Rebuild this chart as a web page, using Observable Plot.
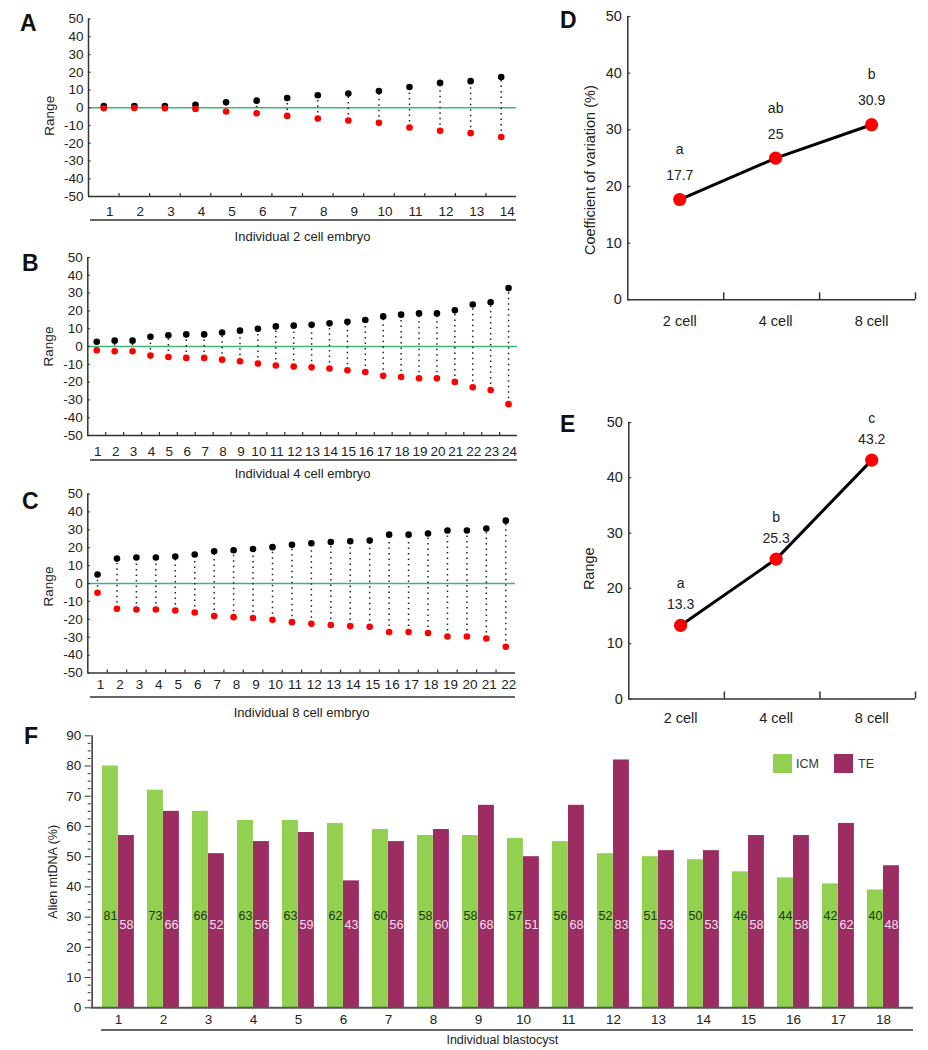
<!DOCTYPE html>
<html><head><meta charset="utf-8">
<script src="https://cdn.jsdelivr.net/npm/d3@7"></script>
<script src="https://cdn.jsdelivr.net/npm/@observablehq/plot@0.6"></script>
<style>
body{margin:0;background:#fff;font-family:"Liberation Sans",Arial,Helvetica,sans-serif;}
#root{position:relative;width:928px;height:1050px;overflow:hidden;background:#fff;}
.letter{position:absolute;font-weight:bold;font-size:23px;line-height:23px;color:#111;}
.uline{position:absolute;height:0;border-top:2px solid #666;}
.sw{position:absolute;width:19px;height:19px;}
.lt{position:absolute;font-size:12.5px;line-height:19px;color:#333;}
</style></head><body><div id="root"></div>
<script>
// ---------- DATA ----------
// Panel A: individual 2 cell embryos (range above / below mean)
const idsA = ["1","2","3","4","5","6","7","8","9","10","11","12","13","14"];
const hiA = [1.0,1.0,1.0,1.6,3.1,4.0,5.5,7.0,8.0,9.4,11.7,14.0,15.0,17.3];
const loA = [-0.3,-0.1,-0.3,-0.7,-2.1,-3.1,-4.6,-6.1,-7.2,-8.5,-11.1,-13.0,-14.3,-16.5];
// Panel B: individual 4 cell embryos
const idsB = ["1","2","3","4","5","6","7","8","9","10","11","12","13","14","15","16","17","18","19","20","21","22","23","24"];
const hiB = [2.7,3.3,3.3,5.5,6.3,6.8,6.8,7.9,8.9,10.0,11.3,11.7,12.2,13.0,13.9,14.9,16.9,17.9,18.6,18.6,20.3,23.6,24.9,32.8];
const loB = [-2.1,-2.7,-2.7,-5.1,-5.9,-6.4,-6.4,-7.4,-8.3,-9.6,-10.7,-11.3,-11.7,-12.4,-13.4,-14.3,-16.5,-17.1,-17.9,-17.9,-19.9,-22.9,-24.4,-32.4];
// Panel C: individual 8 cell embryos
const idsC = ["1","2","3","4","5","6","7","8","9","10","11","12","13","14","15","16","17","18","19","20","21","22"];
const hiC = [5.0,13.9,14.5,14.5,15.1,16.2,18.0,18.6,19.3,20.3,21.6,22.5,23.2,23.6,24.0,27.3,27.3,27.9,29.6,29.6,30.7,35.1];
const loC = [-5.2,-14.1,-14.5,-14.5,-15.1,-16.2,-18.2,-18.8,-19.3,-20.3,-21.6,-22.5,-23.2,-23.8,-24.2,-27.1,-27.1,-27.7,-29.6,-29.6,-30.7,-35.3];
// Panels D and E
const stages = ["2 cell","4 cell","8 cell"];
const cvD = [17.7, 25, 30.9];
const cvLabelD = ["17.7","25","30.9"];
const letterD = ["a","ab","b"];
const rangeE = [13.3, 25.3, 43.2];
const rangeLabelE = ["13.3","25.3","43.2"];
const letterE = ["a","b","c"];
// Panel F: individual blastocysts
const blasto = ["1","2","3","4","5","6","7","8","9","10","11","12","13","14","15","16","17","18"];
const icmBar = [80,72,65,62,62,61,59,57,57,56,55,51,50,49,45,43,41,39];
const teBar  = [57,65,51,55,58,42,55,59,67,50,67,82,52,52,57,57,61,47];
const icmLabel = [81,73,66,63,63,62,60,58,58,57,56,52,51,50,46,44,42,40];
const teLabel  = [58,66,52,56,59,43,56,60,68,51,68,83,53,53,58,58,62,48];

// ---------- STYLE ----------
const FONT = "Liberation Sans, Arial, Helvetica, sans-serif";
const AXIS = "#333";
const ZERO_LINE = "#3fb57a";
const GREEN = "#92d050";
const PURPLE = "#9b2d62";
const root = document.getElementById("root");
const fmt = d => String(d);

function place(el, left, top) {
  el.style.position = "absolute";
  el.style.left = left + "px";
  el.style.top = top + "px";
  el.style.background = "transparent";
  el.style.overflow = "visible";
  el.style.maxWidth = "none";
  el.style.fontFamily = FONT;
  el.style.color = "#222";
  root.appendChild(el);
}
function html(cls, text, css) {
  const d = document.createElement("div");
  d.className = cls;
  if (text) d.textContent = text;
  Object.assign(d.style, css);
  root.appendChild(d);
}

function dotPanel(o) {
  const n = o.ids.length;
  const data = o.ids.map((id, i) => ({pos: i + 1, hi: o.hi[i], lo: o.lo[i]}));
  const pxX = (o.x1 - o.x0) / n;
  const pxY = (o.y1 - o.y0) / 100;
  const yTicks = d3.range(-50, 51, 10);
  const svg = Plot.plot({
    width: o.w, height: o.h,
    marginLeft: o.x0 - o.left, marginRight: o.left + o.w - o.x1,
    marginTop: o.y0 - o.top, marginBottom: o.top + o.h - o.y1,
    x: {domain: [0.5, n + 0.5], label: null},
    y: {domain: [-50, 50], label: null},
    marks: [
      Plot.ruleY([0], {stroke: ZERO_LINE, strokeWidth: 1.6}),
      Plot.ruleX(data, {x: "pos", y1: "lo", y2: "hi", stroke: "#222", strokeWidth: 1.5, strokeDasharray: "1.5,4"}),
      Plot.dot(data, {x: "pos", y: "hi", r: 3.3, fill: "#000"}),
      Plot.dot(data, {x: "pos", y: "lo", r: 3.3, fill: "#ff0000"}),
      Plot.ruleX([0.5], {stroke: AXIS, strokeWidth: 1.5}),
      Plot.ruleY([-50], {stroke: AXIS, strokeWidth: 1.5}),
      Plot.ruleX(d3.range(1.5, n, 1), {y1: -50, y2: -50 + 3 / pxY, stroke: AXIS, strokeWidth: 1.2}),
      Plot.ruleY(yTicks, {x1: 0.5, x2: 0.5 + 2.5 / pxX, stroke: AXIS, strokeWidth: 1.2}),
      Plot.axisY({ticks: yTicks, tickFormat: fmt, tickSize: 0, tickPadding: 5, fontSize: 13.5}),
      Plot.axisX({ticks: data.map(d => d.pos), tickFormat: d => o.ids[d - 1], tickSize: 0, tickPadding: o.xPad, dx: o.labelDx, fontSize: 13.5}),
      Plot.text(["Range"], {text: d => d, frameAnchor: "left", textAnchor: "middle", rotate: -90, dx: -39, dy: o.yLabDy, fontSize: 13.5}),
      Plot.text([o.title], {text: d => d, frameAnchor: "bottom", dy: o.titleDy, fontSize: 13})
    ]
  });
  place(svg, o.left, o.top);
}

function linePanel(o) {
  const data = o.cats.map((c, i) => ({pos: i + 0.5, v: o.vals[i], lbl: o.labels[i], letter: o.letters[i]}));
  const pxX = (o.x1 - o.x0) / 3;
  const pxY = (o.y1 - o.y0) / 50;
  const yTicks = d3.range(0, 51, 10);
  const svg = Plot.plot({
    width: o.w, height: o.h,
    marginLeft: o.x0 - o.left, marginRight: o.left + o.w - o.x1,
    marginTop: o.y0 - o.top, marginBottom: o.top + o.h - o.y1,
    x: {domain: [0, 3], label: null},
    y: {domain: [0, 50], label: null},
    marks: [
      Plot.ruleX([0], {stroke: AXIS, strokeWidth: 1.5}),
      Plot.ruleY([0], {stroke: AXIS, strokeWidth: 1.5}),
      Plot.ruleX([1, 2, 3], {y1: 0, y2: 7 / pxY, stroke: AXIS, strokeWidth: 1.5}),
      Plot.ruleY(yTicks, {x1: 0, x2: 3 / pxX, stroke: AXIS, strokeWidth: 1.2}),
      Plot.line(data, {x: "pos", y: "v", stroke: "#000", strokeWidth: 3, dx: 4}),
      Plot.dot(data, {x: "pos", y: "v", r: 6.6, fill: "#ff0000", dx: 4}),
      Plot.text(data, {x: "pos", y: "v", text: "lbl", dy: o.lblDy, dx: 4, fontSize: 14}),
      Plot.text(data, {x: "pos", y: "v", text: "letter", dy: o.letterDy, dx: 4, fontSize: 14}),
      Plot.axisY({ticks: yTicks, tickFormat: fmt, tickSize: 0, tickPadding: 6, fontSize: 14.5}),
      Plot.axisX({ticks: data.map(d => d.pos), tickFormat: d => o.cats[Math.floor(d)], tickSize: 0, tickPadding: o.xPad, dx: 4, fontSize: 14.5}),
      Plot.text([o.ylabel], {text: d => d, frameAnchor: "left", textAnchor: "middle", rotate: -90, dx: o.yLabDx, dy: o.yLabDy, fontSize: 14.5})
    ]
  });
  place(svg, o.left, o.top);
}

// ---------- PANELS A, B, C ----------
dotPanel({ids: idsA, hi: hiA, lo: loA, left: 0, top: 0, w: 540, h: 250,
  x0: 88, x1: 516, y0: 18.5, y1: 196, xPad: 9.5, labelDx: 6, yLabDy: 8, titleDy: 44,
  title: "Individual 2 cell embryo"});
dotPanel({ids: idsB, hi: hiB, lo: loB, left: 0, top: 248, w: 540, h: 232,
  x0: 87.3, x1: 517, y0: 257, y1: 435, xPad: 11, labelDx: 1, yLabDy: 0, titleDy: 42,
  title: "Individual 4 cell embryo"});
dotPanel({ids: idsC, hi: hiC, lo: loC, left: 0, top: 480, w: 540, h: 245,
  x0: 87.3, x1: 515, y0: 493.5, y1: 672.5, xPad: 6.5, labelDx: 3, yLabDy: 3, titleDy: 43.5,
  title: "Individual 8 cell embryo"});

// ---------- PANELS D, E ----------
linePanel({cats: stages, vals: cvD, labels: cvLabelD, letters: letterD,
  left: 540, top: 0, w: 388, h: 340, x0: 627.3, x1: 915, y0: 16, y1: 299.3,
  lblDy: -24, letterDy: -50, xPad: 15.5, yLabDx: -37, yLabDy: 12,
  ylabel: "Coefficient of variation (%)"});
linePanel({cats: stages, vals: rangeE, labels: rangeLabelE, letters: letterE,
  left: 540, top: 340, w: 388, h: 390, x0: 628.3, x1: 915, y0: 422, y1: 698.5,
  lblDy: -21, letterDy: -42, xPad: 13.3, yLabDx: -39, yLabDy: 8,
  ylabel: "Range"});

// ---------- PANEL F ----------
{
  const data = blasto.map((id, i) => ({id, icm: icmBar[i], te: teBar[i], icmL: icmLabel[i], teL: teLabel[i]}));
  const majors = d3.range(0, 91, 10);
  const minors = d3.range(0, 90, 2.5).filter(v => v % 10 !== 0);
  const left = 0, top = 712, w = 928, h = 338;
  const x0 = 90.7, xr0 = 93, xr1 = 905, x1 = 913, y0 = 735.3, y1 = 1007.3;
  const bw = (xr1 - xr0) / blasto.length;
  const svg = Plot.plot({
    width: w, height: h,
    marginLeft: x0 - left, marginRight: left + w - x1,
    marginTop: y0 - top, marginBottom: top + h - y1,
    x: {type: "band", domain: blasto, range: [xr0, xr1], padding: 0, label: null},
    y: {domain: [0, 90], label: null},
    marks: [
      Plot.barY(data, {x: "id", y: "icm", fill: GREEN, insetLeft: 8, insetRight: bw - 24}),
      Plot.barY(data, {x: "id", y: "te", fill: PURPLE, insetLeft: 24, insetRight: bw - 40}),
      Plot.text(data, {x: "id", y: () => 30.5, text: "icmL", dx: 16 - bw / 2, fill: "#1d3510", fontSize: 12.5}),
      Plot.text(data, {x: "id", y: () => 27.3, text: "teL", dx: 32 - bw / 2, fill: "#f6e2ec", fontSize: 12.5}),
      Plot.ruleY([0], {stroke: "#555", strokeWidth: 2}),
      Plot.ruleX([blasto[0]], {dx: x0 - (xr0 + bw / 2), stroke: AXIS, strokeWidth: 1.5}),
      Plot.axisY({ticks: minors, tickSize: 3, tickFormat: () => "", stroke: AXIS}),
      Plot.axisY({ticks: majors, tickFormat: fmt, tickSize: 6, tickPadding: 4, fontSize: 13.5, stroke: AXIS}),
      Plot.axisX({tickSize: 0, tickPadding: 7, dx: 1.5, fontSize: 13.5}),
      Plot.text(["Alien mtDNA (%)"], {text: d => d, frameAnchor: "left", textAnchor: "middle", rotate: -90, dx: -38, fontSize: 12.5}),
      Plot.text(["Individual blastocyst"], {text: d => d, frameAnchor: "bottom", dy: 36.5, fontSize: 12.5})
    ]
  });
  place(svg, left, top);
}

// ---------- decorations: underlines, legend, panel letters ----------
html("uline", "", {left: "90px", top: "219px", width: "426px"});
html("uline", "", {left: "90px", top: "459px", width: "427px"});
html("uline", "", {left: "90px", top: "696px", width: "425px"});
html("uline", "", {left: "101px", top: "1029px", width: "812px"});

html("sw", "", {left: "773px", top: "754px", background: GREEN});
html("lt", "ICM", {left: "796px", top: "755px"});
html("sw", "", {left: "834px", top: "754px", background: PURPLE});
html("lt", "TE", {left: "858px", top: "755px"});

html("letter", "A", {left: "20px", top: "12px"});
html("letter", "B", {left: "22px", top: "252px"});
html("letter", "C", {left: "22px", top: "490px"});
html("letter", "D", {left: "560px", top: "9px"});
html("letter", "E", {left: "560px", top: "413px"});
html("letter", "F", {left: "24px", top: "725px"});
</script>
</body></html>
